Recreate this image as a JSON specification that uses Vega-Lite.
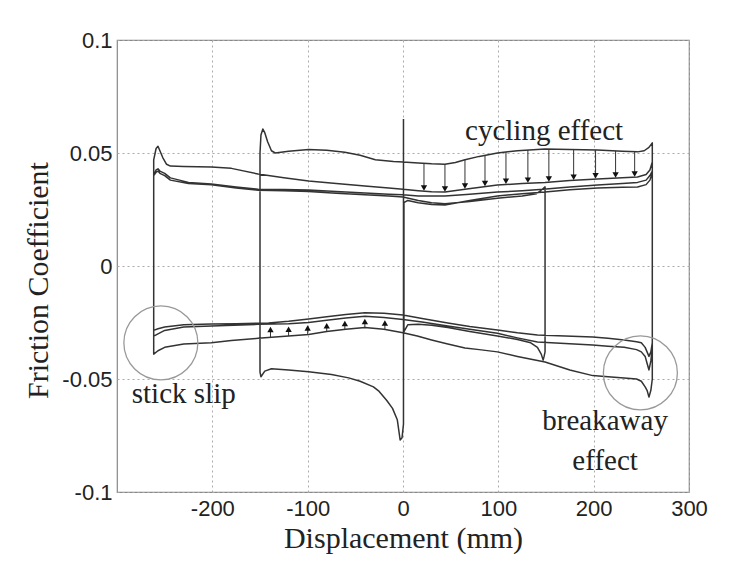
{
  "$schema": "https://vega.github.io/schema/vega-lite/v6.json",
  "width": 572,
  "height": 452,
  "autosize": {"type": "none"},
  "padding": {"left": 117, "top": 40, "right": 54, "bottom": 69},
  "background": "white",
  "config": {
    "view": {"stroke": "#888", "strokeWidth": 1.2},
    "axis": {
      "labelFont": "Liberation Sans", "labelFontSize": 22, "labelColor": "#222",
      "titleFont": "Liberation Serif", "titleFontSize": 30, "titleFontWeight": "normal", "titleColor": "#222",
      "ticks": false, "domain": false,
      "gridColor": "#aaa", "gridDash": [2, 3], "gridWidth": 1
    }
  },
  "datasets": {
    "curve": [
      {"d":0.5,"f":0.065},{"d":0.5,"f":-0.070},{"d":-1,"f":-0.076},{"d":-3,"f":-0.077},{"d":-6,"f":-0.068},{"d":-11,"f":-0.063},{"d":-17,"f":-0.0595},{"d":-25,"f":-0.0555},{"d":-31,"f":-0.0535},{"d":-45,"f":-0.051},{"d":-57,"f":-0.0495},{"d":-75,"f":-0.048},{"d":-99,"f":-0.0468},{"d":-120,"f":-0.046},{"d":-138,"f":-0.0455},{"d":-145,"f":-0.0465},{"d":-149,"f":-0.049},{"d":-150,"f":-0.047},
      {"d":-150,"f":0.050},{"d":-149,"f":0.058},{"d":-147,"f":0.0606},{"d":-145,"f":0.059},{"d":-142,"f":0.055},{"d":-138,"f":0.051},{"d":-134,"f":0.050},{"d":-120,"f":0.0508},{"d":-99,"f":0.0515},{"d":-80,"f":0.0512},{"d":-61,"f":0.0503},{"d":-45,"f":0.049},{"d":-29,"f":0.047},{"d":-10,"f":0.0462},{"d":0,"f":0.046},{"d":16,"f":0.0456},{"d":30,"f":0.0452},{"d":44,"f":0.045},{"d":55,"f":0.0458},{"d":65,"f":0.047},{"d":80,"f":0.0485},{"d":99,"f":0.050},{"d":120,"f":0.051},{"d":149,"f":0.0518},{"d":175,"f":0.0516},{"d":204,"f":0.0513},{"d":230,"f":0.0508},{"d":246,"f":0.0505},{"d":253,"f":0.051},{"d":258,"f":0.0525},{"d":261.5,"f":0.0545},
      {"d":261.5,"f":-0.050},{"d":260,"f":-0.055},{"d":258,"f":-0.058},{"d":256,"f":-0.055},{"d":254,"f":-0.0535},{"d":250,"f":-0.051},{"d":245,"f":-0.050},{"d":232,"f":-0.0496},{"d":215,"f":-0.049},{"d":199,"f":-0.0485},{"d":175,"f":-0.046},{"d":149,"f":-0.0425},{"d":120,"f":-0.040},{"d":99,"f":-0.038},{"d":80,"f":-0.037},{"d":65,"f":-0.0363},{"d":47,"f":-0.0345},{"d":30,"f":-0.0327},{"d":15,"f":-0.031},{"d":0,"f":-0.0295},{"d":-20,"f":-0.028},{"d":-40,"f":-0.0272},{"d":-60,"f":-0.028},{"d":-80,"f":-0.029},{"d":-99,"f":-0.0303},{"d":-120,"f":-0.031},{"d":-152,"f":-0.032},{"d":-180,"f":-0.033},{"d":-201,"f":-0.034},{"d":-230,"f":-0.0345},{"d":-250,"f":-0.036},{"d":-257,"f":-0.0375},{"d":-261.5,"f":-0.039},
      {"d":-261.5,"f":0.047},{"d":-259,"f":0.052},{"d":-257,"f":0.053},{"d":-255,"f":0.051},{"d":-252,"f":0.048},{"d":-248,"f":0.045},{"d":-244,"f":0.0442},{"d":-230,"f":0.0440},{"d":-201,"f":0.0438},{"d":-180,"f":0.0432},{"d":-152,"f":0.0407},{"d":-125,"f":0.039},{"d":-99,"f":0.0376},{"d":-70,"f":0.0365},{"d":-40,"f":0.0354},{"d":-15,"f":0.0345},{"d":0,"f":0.034},{"d":16,"f":0.0333},{"d":30,"f":0.0328},{"d":44,"f":0.0327},{"d":65,"f":0.034},{"d":99,"f":0.0358},{"d":125,"f":0.0365},{"d":149,"f":0.037},{"d":175,"f":0.0378},{"d":204,"f":0.0385},{"d":230,"f":0.039},{"d":246,"f":0.0394},{"d":255,"f":0.0405},{"d":259,"f":0.0425},{"d":261.5,"f":0.046},
      {"d":261.5,"f":-0.036},{"d":260,"f":-0.042},{"d":258,"f":-0.046},{"d":256,"f":-0.043},{"d":254,"f":-0.040},{"d":250,"f":-0.038},{"d":245,"f":-0.037},{"d":232,"f":-0.036},{"d":215,"f":-0.0355},{"d":199,"f":-0.035},{"d":170,"f":-0.0343},{"d":141,"f":-0.0336},{"d":120,"f":-0.0318},{"d":99,"f":-0.0298},{"d":70,"f":-0.028},{"d":47,"f":-0.0265},{"d":20,"f":-0.0248},{"d":0,"f":-0.0237},{"d":-20,"f":-0.0228},{"d":-40,"f":-0.0222},{"d":-60,"f":-0.023},{"d":-80,"f":-0.024},{"d":-99,"f":-0.025},{"d":-120,"f":-0.0256},{"d":-152,"f":-0.0258},{"d":-201,"f":-0.0265},{"d":-230,"f":-0.027},{"d":-250,"f":-0.0285},{"d":-257,"f":-0.030},{"d":-261.5,"f":-0.031},
      {"d":-261.5,"f":0.040},{"d":-259,"f":0.0425},{"d":-257,"f":0.043},{"d":-255,"f":0.042},{"d":-250,"f":0.041},{"d":-244,"f":0.039},{"d":-225,"f":0.037},{"d":-201,"f":0.0363},{"d":-175,"f":0.035},{"d":-152,"f":0.034},{"d":-125,"f":0.0338},{"d":-99,"f":0.0336},{"d":-70,"f":0.033},{"d":-40,"f":0.0323},{"d":-15,"f":0.0318},{"d":0,"f":0.0315},{"d":16,"f":0.031},{"d":44,"f":0.031},{"d":70,"f":0.0318},{"d":99,"f":0.0327},{"d":125,"f":0.0333},{"d":147,"f":0.034},{"d":175,"f":0.035},{"d":204,"f":0.0358},{"d":230,"f":0.0365},{"d":246,"f":0.037},{"d":255,"f":0.038},{"d":259,"f":0.040},{"d":261.5,"f":0.042},
      {"d":261.5,"f":-0.034},{"d":260,"f":-0.038},{"d":258,"f":-0.040},{"d":256,"f":-0.038},{"d":254,"f":-0.036},{"d":250,"f":-0.034},{"d":245,"f":-0.0335},{"d":232,"f":-0.0327},{"d":215,"f":-0.032},{"d":199,"f":-0.0314},{"d":170,"f":-0.031},{"d":141,"f":-0.0305},{"d":120,"f":-0.0295},{"d":99,"f":-0.0283},{"d":70,"f":-0.0268},{"d":47,"f":-0.0252},{"d":20,"f":-0.0232},{"d":0,"f":-0.0217},{"d":-20,"f":-0.0209},{"d":-40,"f":-0.0207},{"d":-60,"f":-0.0215},{"d":-80,"f":-0.0225},{"d":-99,"f":-0.0235},{"d":-120,"f":-0.0245},{"d":-141,"f":-0.0252},{"d":-175,"f":-0.0255},{"d":-201,"f":-0.0257},{"d":-230,"f":-0.026},{"d":-250,"f":-0.027},{"d":-257,"f":-0.0278},{"d":-261.5,"f":-0.0285},
      {"d":-261.5,"f":0.040},{"d":-259,"f":0.0415},{"d":-257,"f":0.042},{"d":-255,"f":0.041},{"d":-250,"f":0.040},{"d":-244,"f":0.038},{"d":-225,"f":0.0365},{"d":-201,"f":0.036},{"d":-175,"f":0.0345},{"d":-152,"f":0.0335},{"d":-125,"f":0.0333},{"d":-99,"f":0.033},{"d":-70,"f":0.0322},{"d":-40,"f":0.0315},{"d":-15,"f":0.031},{"d":0,"f":0.0305},{"d":16,"f":0.029},{"d":30,"f":0.028},{"d":44,"f":0.0275},{"d":70,"f":0.0285},{"d":99,"f":0.030},{"d":125,"f":0.031},{"d":140,"f":0.032},{"d":145,"f":0.0335},{"d":149,"f":0.035},
      {"d":149,"f":-0.038},{"d":148,"f":-0.040},{"d":147,"f":-0.0416},{"d":145,"f":-0.039},{"d":141,"f":-0.036},{"d":134,"f":-0.034},{"d":120,"f":-0.0325},{"d":99,"f":-0.031},{"d":70,"f":-0.029},{"d":47,"f":-0.0272},{"d":30,"f":-0.0262},{"d":16,"f":-0.0258},{"d":5,"f":-0.026},{"d":1,"f":-0.029},
      {"d":1,"f":0.028},{"d":5,"f":0.029},{"d":16,"f":0.028},{"d":30,"f":0.0272},{"d":44,"f":0.027},{"d":70,"f":0.029},{"d":99,"f":0.031},{"d":125,"f":0.032},{"d":149,"f":0.0327},{"d":175,"f":0.0337},{"d":204,"f":0.0345},{"d":230,"f":0.0348},{"d":246,"f":0.035},{"d":255,"f":0.036},{"d":259,"f":0.038},{"d":261.5,"f":0.041}
    ],
    "circles": [{"d": -254, "f": -0.034}, {"d": 249, "f": -0.0473}],
    "arrows": [
      {"d":22,"f":0.0454,"f2":0.0351},{"d":44,"f":0.045,"f2":0.0347},{"d":65,"f":0.047,"f2":0.036},{"d":86,"f":0.049,"f2":0.0371},{"d":108,"f":0.0504,"f2":0.0381},{"d":131,"f":0.0513,"f2":0.0386},{"d":153,"f":0.0518,"f2":0.0391},{"d":179,"f":0.0516,"f2":0.0399},{"d":202,"f":0.0513,"f2":0.0405},{"d":223,"f":0.0509,"f2":0.0409},{"d":243,"f":0.0505,"f2":0.0413},
      {"d":-139,"f":-0.0316,"f2":-0.0287},{"d":-120,"f":-0.031,"f2":-0.0286},{"d":-100,"f":-0.0303,"f2":-0.028},{"d":-80,"f":-0.029,"f2":-0.027},{"d":-61,"f":-0.028,"f2":-0.026},{"d":-40,"f":-0.0272,"f2":-0.0252},{"d":-19,"f":-0.028,"f2":-0.0258}
    ],
    "headsDown": [
      {"d":22,"f":0.0345},{"d":44,"f":0.0341},{"d":65,"f":0.0354},{"d":86,"f":0.0365},{"d":108,"f":0.0375},{"d":131,"f":0.038},{"d":153,"f":0.0385},{"d":179,"f":0.0393},{"d":202,"f":0.0399},{"d":223,"f":0.0403},{"d":243,"f":0.0407}
    ],
    "headsUp": [
      {"d":-139,"f":-0.0281},{"d":-120,"f":-0.028},{"d":-100,"f":-0.0274},{"d":-80,"f":-0.0264},{"d":-61,"f":-0.0254},{"d":-40,"f":-0.0246},{"d":-19,"f":-0.0252}
    ],
    "labels": [
      {"d": 148, "f": 0.0558, "t": "cycling effect"},
      {"d": -230, "f": -0.0606, "t": "stick slip"},
      {"d": 212, "f": -0.0726, "t": "breakaway"},
      {"d": 212, "f": -0.0903, "t": "effect"}
    ]
  },
  "encoding": {
    "x": {
      "field": "d", "type": "quantitative",
      "scale": {"domain": [-300, 300], "nice": false, "zero": false},
      "axis": {"title": "Displacement (mm)", "values": [-200, -100, 0, 100, 200, 300], "labelExpr": "'' + datum.value", "labelPadding": 6, "titlePadding": 4, "labelFlush": false}
    },
    "y": {
      "field": "f", "type": "quantitative",
      "scale": {"domain": [-0.1, 0.1], "nice": false, "zero": false},
      "axis": {"title": "Friction Coefficient", "values": [-0.1, -0.05, 0, 0.05, 0.1], "labelExpr": "'' + datum.value", "labelPadding": 5, "titlePadding": 8, "titleY": 240, "labelFlush": false}
    }
  },
  "layer": [
    {
      "data": {"name": "curve"},
      "mark": {"type": "line", "color": "#333", "strokeWidth": 1.5, "strokeJoin": "round"},
      "encoding": {"order": {"value": null}}
    },
    {
      "data": {"name": "circles"},
      "mark": {"type": "point", "shape": "circle", "size": 5476, "filled": false, "stroke": "#999", "strokeWidth": 1.3, "opacity": 1}
    },
    {
      "data": {"name": "arrows"},
      "mark": {"type": "rule", "color": "#333", "strokeWidth": 1},
      "encoding": {"y2": {"field": "f2"}}
    },
    {
      "data": {"name": "headsDown"},
      "mark": {"type": "point", "shape": "triangle-down", "size": 40, "filled": true, "color": "#111", "opacity": 1}
    },
    {
      "data": {"name": "headsUp"},
      "mark": {"type": "point", "shape": "triangle-up", "size": 40, "filled": true, "color": "#111", "opacity": 1}
    },
    {
      "data": {"name": "labels"},
      "mark": {"type": "text", "font": "Liberation Serif", "fontSize": 29, "color": "#222", "align": "center", "baseline": "alphabetic"},
      "encoding": {"text": {"field": "t"}}
    }
  ]
}
